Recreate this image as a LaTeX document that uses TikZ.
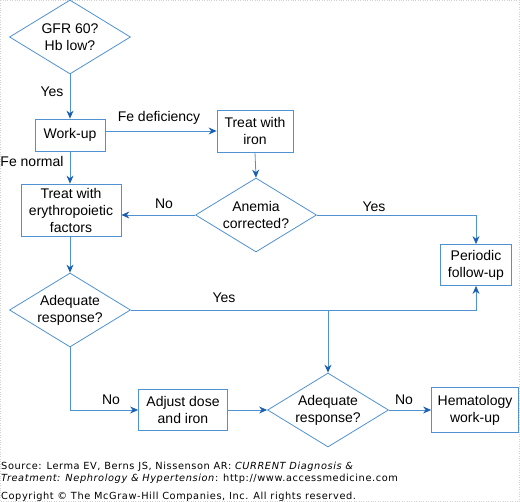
\documentclass[tikz,border=0pt]{standalone}
\usepackage{fontspec}
\setmainfont{Liberation Sans}
\newfontfamily\footfont[LetterSpace=6]{DejaVu Sans}
\usepackage{tikz}
\usetikzlibrary{shapes.geometric,arrows.meta}
\definecolor{lineblue}{RGB}{80,145,210}
\definecolor{headblue}{RGB}{25,95,175}

\tikzset{
  flowbox/.style={draw=lineblue,thick,align=center,inner sep=0pt},
  decision/.style={draw=lineblue,thick,diamond,align=center,inner sep=0pt,aspect=1.6,minimum width=121pt,minimum height=74pt},
  flow/.style={draw=lineblue,thick,-{Stealth[length=8pt,width=7pt,color=headblue]}},
  lbl/.style={inner sep=0pt},
  srcline/.style={inner sep=0pt,anchor=west,font=\footfont\fontsize{9.8}{11}\selectfont}
}

\begin{document}
\begin{tikzpicture}[x=1pt,y=-1pt,font=\fontsize{14}{17}\selectfont]
\useasboundingbox (0,0) rectangle (520,502);
\draw[gray!35,dotted] (0.5,0.5) rectangle (519.5,501.5);

% decisions
\node[decision] (gfr) at (70,37) {GFR 60?\\Hb low?};
\node[decision] (anemia) at (256,215) {Anemia\\corrected?};
\node[decision] (adeqa) at (70,310) {Adequate\\response?};
\node[decision] (adeqb) at (328,410) {Adequate\\response?};

% boxes
\node[flowbox,minimum width=70pt,minimum height=32pt] (workup) at (70,135) {Work-up};
\node[flowbox,minimum width=76pt,minimum height=42pt] (iron) at (255,131) {Treat with\\iron};
\node[flowbox,minimum width=100pt,minimum height=52pt] (epo) at (71,210) {Treat with\\erythropoietic\\factors};
\node[flowbox,minimum width=71pt,minimum height=41pt] (periodic) at (476,265) {Periodic\\follow-up};
\node[flowbox,minimum width=89pt,minimum height=41pt] (adjust) at (183,410) {Adjust dose\\and iron};
\node[flowbox,minimum width=87pt,minimum height=45pt] (hema) at (475,410) {Hematology\\work-up};

% connectors
\draw[flow] (gfr.south) -- (workup.north);
\draw[flow] (workup.east |- iron.west) -- (iron.west);
\draw[flow] (workup.south) -- (epo.north -| workup.south);
\draw[flow] (iron.south) -- (anemia.north);
\draw[flow] (anemia.west) -- (epo.east |- anemia.west);
\draw[flow] (anemia.east) -| (periodic.north);
\draw[flow] (epo.south -| adeqa.north) -- (adeqa.north);
\draw[flow] (adeqa.east) -| (periodic.south);
\coordinate (split) at (adeqa.east -| adeqb.north);
\draw[flow] (split) -- (adeqb.north);
\draw[flow] (adeqa.south) |- (adjust.west);
\draw[flow] (adjust.east) -- (adeqb.west);
\draw[flow] (adeqb.east) -- (hema.west);

% labels
\node[lbl] (yes1) at (52,92) {Yes};
\node[lbl] (fedef) at (159,118) {Fe deficiency};
\node[lbl] (fenorm) at (32,161) {Fe normal};
\node[lbl] (no1) at (164,204) {No};
\node[lbl] (yes2) at (374,207) {Yes};
\node[lbl] (yes3) at (224,298) {Yes};
\node[lbl] (no2) at (111,400) {No};
\node[lbl] (no3) at (404,400) {No};

% source lines
\node[srcline] (src1) at (1,467) {Source: Lerma EV, Berns JS, Nissenson AR: \textit{CURRENT Diagnosis \&}};
\node[srcline] (src2) at (1,479) {\textit{Treatment: Nephrology \& Hypertension}: http://www.accessmedicine.com};
\node[srcline] (copy) at (1,497) {Copyright \textcopyright{} The McGraw-Hill Companies, Inc. All rights reserved.};
\end{tikzpicture}
\end{document}
